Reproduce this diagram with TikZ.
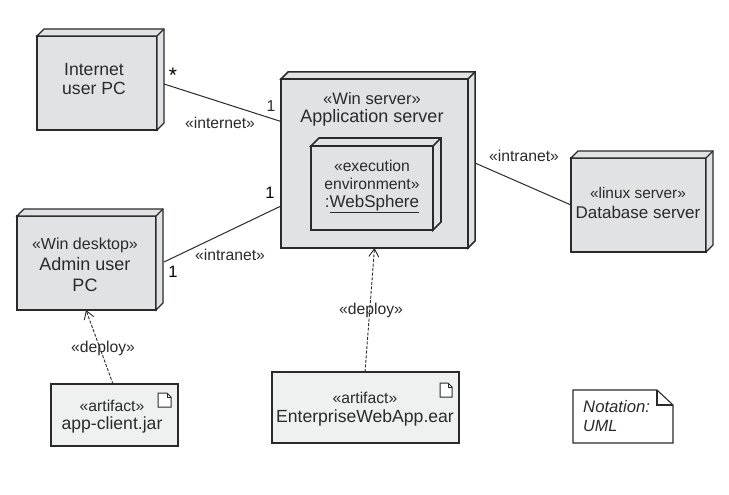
\documentclass[tikz,border=0pt]{standalone}
\usepackage{fontspec}
\setmainfont{Liberation Sans}
\usetikzlibrary{arrows.meta,calc}
\definecolor{ink}{HTML}{2A2A2A}
\definecolor{nodegray}{HTML}{E1E2E4}
\definecolor{artgray}{HTML}{EFF0F0}
\tikzset{
  box/.style={draw=ink,line width=1.2pt,inner sep=0pt,outer sep=0pt,anchor=north west},
  nodebox/.style={box,fill=nodegray},
  artbox/.style={box,fill=artgray},
  face/.style={draw=ink,line width=1.2pt,line join=miter,fill=nodegray},
  conn/.style={draw=ink,line width=1pt},
  dep/.style={draw=ink,line width=.9pt,dash pattern=on 3pt off 1.6pt,-{Straight Barb[length=8pt,width=10pt,line width=.9pt]}},
  st/.style={font=\fontsize{15.7}{18}\selectfont,text=ink,inner sep=0pt},
  mn/.style={font=\fontsize{17.6}{20}\selectfont,text=ink,inner sep=0pt},
  num/.style={font=\fontsize{16.5}{18}\selectfont,text=black,inner sep=0pt},
}
\newcommand{\cubenode}[7][1.2pt]{%
  \node[nodebox,line width=#1,minimum width={(#5-#3)*1pt},minimum height={(#6-#4)*1pt}] (#2) at (#3,#4) {};
  \draw[face,line width=#1] (#2.north west) -- ++(#7,-#7) -- ($(#2.north east)+(#7,-#7)$) -- ($(#2.south east)+(#7,-#7)$) -- (#2.south east) -- (#2.north east) -- cycle;
  \draw[draw=ink,line width=#1] (#2.north east) -- ++(#7,-#7);
}
\newcommand{\docicon}[3]{%
  \draw[draw=ink,line width=1pt,fill=white,line join=miter] (#1,#2) -- ++(0,-14) -- ++(#3-4,0) -- ++(4,4) -- ++(0,10) -- cycle;
  \draw[draw=ink,line width=.8pt] (#1+#3-4,#2-14) -- ++(0,4) -- ++(4,0);
}
\begin{document}
\begin{tikzpicture}[x=1pt,y=-1pt]
\useasboundingbox (0,0) rectangle (729,495);
\fill[white] (0,0) rectangle (729,495);

% deployment nodes
\cubenode{inet}{37}{36}{157}{130}{7}
\cubenode[1.5pt]{app}{281}{79}{468}{248}{7}
\cubenode[1.6pt]{ws}{311}{146}{433}{230}{8}
\cubenode{admin}{17}{216}{156}{310}{7}
\cubenode{db}{571}{158}{706}{252}{7}

% artifacts
\node[artbox,minimum width=127pt,minimum height=62pt] (client) at (51,384) {};
\node[artbox,minimum width=187pt,minimum height=71pt] (ear) at (272,372) {};
\docicon{158}{407}{13}
\docicon{440}{397}{12}

% note
\path[draw=ink,line width=1.1pt,fill=white,line join=miter] (573,390) -- (657,390) -- (673,405) -- (673,443) -- (573,443) -- cycle;
\draw[draw=ink,line width=1.1pt,line join=miter] (657,390) -- (657,405) -- (673,405);

% connectors
\draw[conn] ([xshift=7pt,yshift=-1pt]inet.east) -- ([yshift=42pt]app.west);
\draw[conn] ([xshift=8pt,yshift=1pt]admin.east) -- ([yshift=-42.5pt]app.west);
\draw[conn] ([xshift=7pt,yshift=.5pt]app.east) -- (db.west);
\draw[dep] ([xshift=-1.5pt]client.north) -- ([xshift=-.5pt]admin.south);
\draw[dep] ([xshift=-.5pt]ear.north) -- (app.south);

% labels
\node[mn] at (94,69.5) {Internet};
\node[mn] at (94,88) {user PC};
\node[text=black,inner sep=0pt,font=\fontsize{21}{22}\selectfont] at (173,75) {*};
\node[st] at (271,106.5) {1};
\node[st] at (220,123) {«internet»};

\node[st,font=\fontsize{16.6}{18}\selectfont] at (372,99) {«Win server»};
\node[mn,font=\fontsize{18}{20}\selectfont] at (372,118) {Application server};
\node[st] at (372,166) {«execution};
\node[st] at (372,184) {environment»};
\node[mn,font=\fontsize{17}{20}\selectfont] at (372,204) {:\underline{WebSphere}};

\node[st] at (524,156) {«intranet»};
\node[st,font=\fontsize{15.4}{18}\selectfont] at (638,193) {«linux server»};
\node[mn,font=\fontsize{17}{20}\selectfont] at (638,212) {Database server};

\node[st,font=\fontsize{16}{18}\selectfont] at (85,245) {«Win desktop»};
\node[mn,font=\fontsize{18}{20}\selectfont] at (85,264) {Admin user};
\node[mn,font=\fontsize{18}{20}\selectfont] at (85,285) {PC};
\node[st] at (230,255) {«intranet»};
\node[num] at (173,272) {1};
\node[num] at (270,193) {1};

\node[st] at (103,348) {«deploy»};
\node[st] at (371,310) {«deploy»};
\node[st] at (112,406) {«artifact»};
\node[mn] at (112,425) {app-client.jar};
\node[st] at (365,398) {«artifact»};
\node[mn] at (365,418) {EnterpriseWebApp.ear};

\node[st,anchor=west,font=\fontsize{16.7}{18}\selectfont] at (583,407) {\itshape Notation:};
\node[st,anchor=west,font=\fontsize{16.2}{18}\selectfont] at (583,426) {\itshape UML};
\end{tikzpicture}
\end{document}
